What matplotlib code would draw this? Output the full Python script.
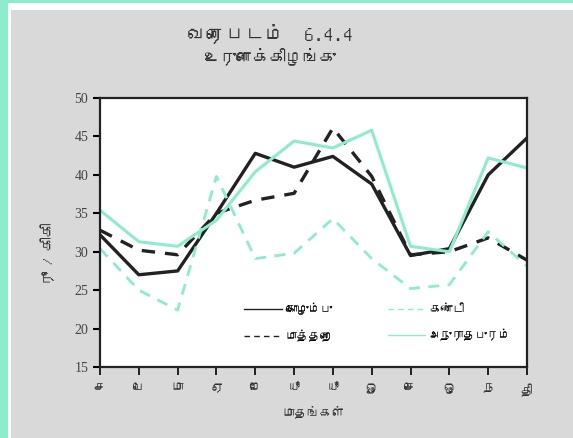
import matplotlib
matplotlib.use('Agg')
import matplotlib.pyplot as plt
from matplotlib import font_manager
from matplotlib.ft2font import FT2Font
from matplotlib.patches import Rectangle

# look for an installed family that can draw Tamil
def find_tamil_family():
    names = []
    for f in font_manager.fontManager.ttflist:
        try:
            cmap = FT2Font(f.fname).get_charmap()
        except Exception:
            continue
        if 0x0BA4 in cmap and 0x0BC1 in cmap:
            names.append(f.name)
    return names

tamil = find_tamil_family()
families = (tamil[:1] if tamil else []) + ['DejaVu Sans']
plt.rcParams['font.family'] = families

months = ['ச', 'பெ', 'மா', 'ஏ', 'மே', 'யூ', 'யூ', 'ஓ', 'செ', 'ஒ', 'ந', 'தி']
colombo = [32.2, 27.0, 27.5, 35.0, 42.8, 41.0, 42.4, 38.8, 29.5, 30.4, 40.0, 44.8]
matara = [32.8, 30.2, 29.6, 35.0, 36.7, 37.6, 46.1, 39.8, 29.6, 30.0, 31.8, 28.9]
kandy = [30.4, 25.0, 22.4, 39.8, 29.1, 29.8, 34.3, 29.1, 25.2, 25.7, 32.6, 28.1]
anuradhapura = [35.4, 31.3, 30.7, 34.1, 40.4, 44.4, 43.5, 45.8, 30.7, 30.0, 42.2, 40.9]

mint = '#8deccc'
x = list(range(len(months)))

fig = plt.figure(figsize=(5.73, 4.38), dpi=100)
fig.patch.set_facecolor(mint)
fig.patches.append(Rectangle((8/573, 0), 1, 1 - 3/438, transform=fig.transFigure,
                             facecolor='white', edgecolor='none', zorder=-2))
fig.patches.append(Rectangle((11/573, 0), 1, 1 - 10/438, transform=fig.transFigure,
                             facecolor='#d9d9d9', edgecolor='none', zorder=-1))

ax = fig.add_axes([100/573, 71/438, 427/573, 269/438])
ax.set_facecolor('white')

ax.plot(x, colombo, color='#222222', lw=2.4, label='கொழும்பு')
ax.plot(x, matara, color='#222222', lw=2.4, ls=(0, (4, 3)), label='மாத்தறை')
ax.plot(x, kandy, color=mint, lw=2.0, ls=(0, (4, 3)), label='கண்டி')
ax.plot(x, anuradhapura, color=mint, lw=2.2, label='அநுராதபுரம்')

ax.set_xlim(0, 11)
ax.set_ylim(15, 50)
ax.set_xticks(x)
ax.set_xticklabels(months, fontsize=9, color='#333333')
ax.set_yticks(range(15, 51, 5))
ax.tick_params(axis='y', labelsize=10, labelcolor='#444444', length=5, width=1.5)
for lab in ax.get_yticklabels():
    lab.set_family(['Liberation Serif', 'DejaVu Serif'])
ax.tick_params(axis='x', length=6, width=1.2, pad=6)
for s in ax.spines.values():
    s.set_linewidth(1.6)
    s.set_color('#222222')

ax.set_xlabel('மாதங்கள்', fontsize=9, color='#333333', labelpad=6)
ax.set_ylabel('ரூ / கிகி', fontsize=10, color='#333333')
ax.yaxis.set_label_coords(-0.105, 0.42)

handles, labels = ax.get_legend_handles_labels()
leg = ax.legend(handles, labels,
                ncol=2, frameon=False, fontsize=8.5, handlelength=3.2,
                columnspacing=4.7, labelspacing=1.25, handletextpad=0.3,
                loc='lower center', bbox_to_anchor=(0.65, 0.055))
for line in leg.get_lines():
    line.set_linewidth(1.0)

fig.text(270/573, 1 - 33/438, 'வரைபடம்  6.4.4', ha='center', va='center',
         fontsize=14, fontweight='bold', color='#333333')
fig.text(270/573, 1 - 56/438, 'உருளைக்கிழங்கு', ha='center', va='center',
         fontsize=12, fontweight='bold', color='#333333')

fig.savefig('out.png', dpi=100, facecolor=fig.get_facecolor())
